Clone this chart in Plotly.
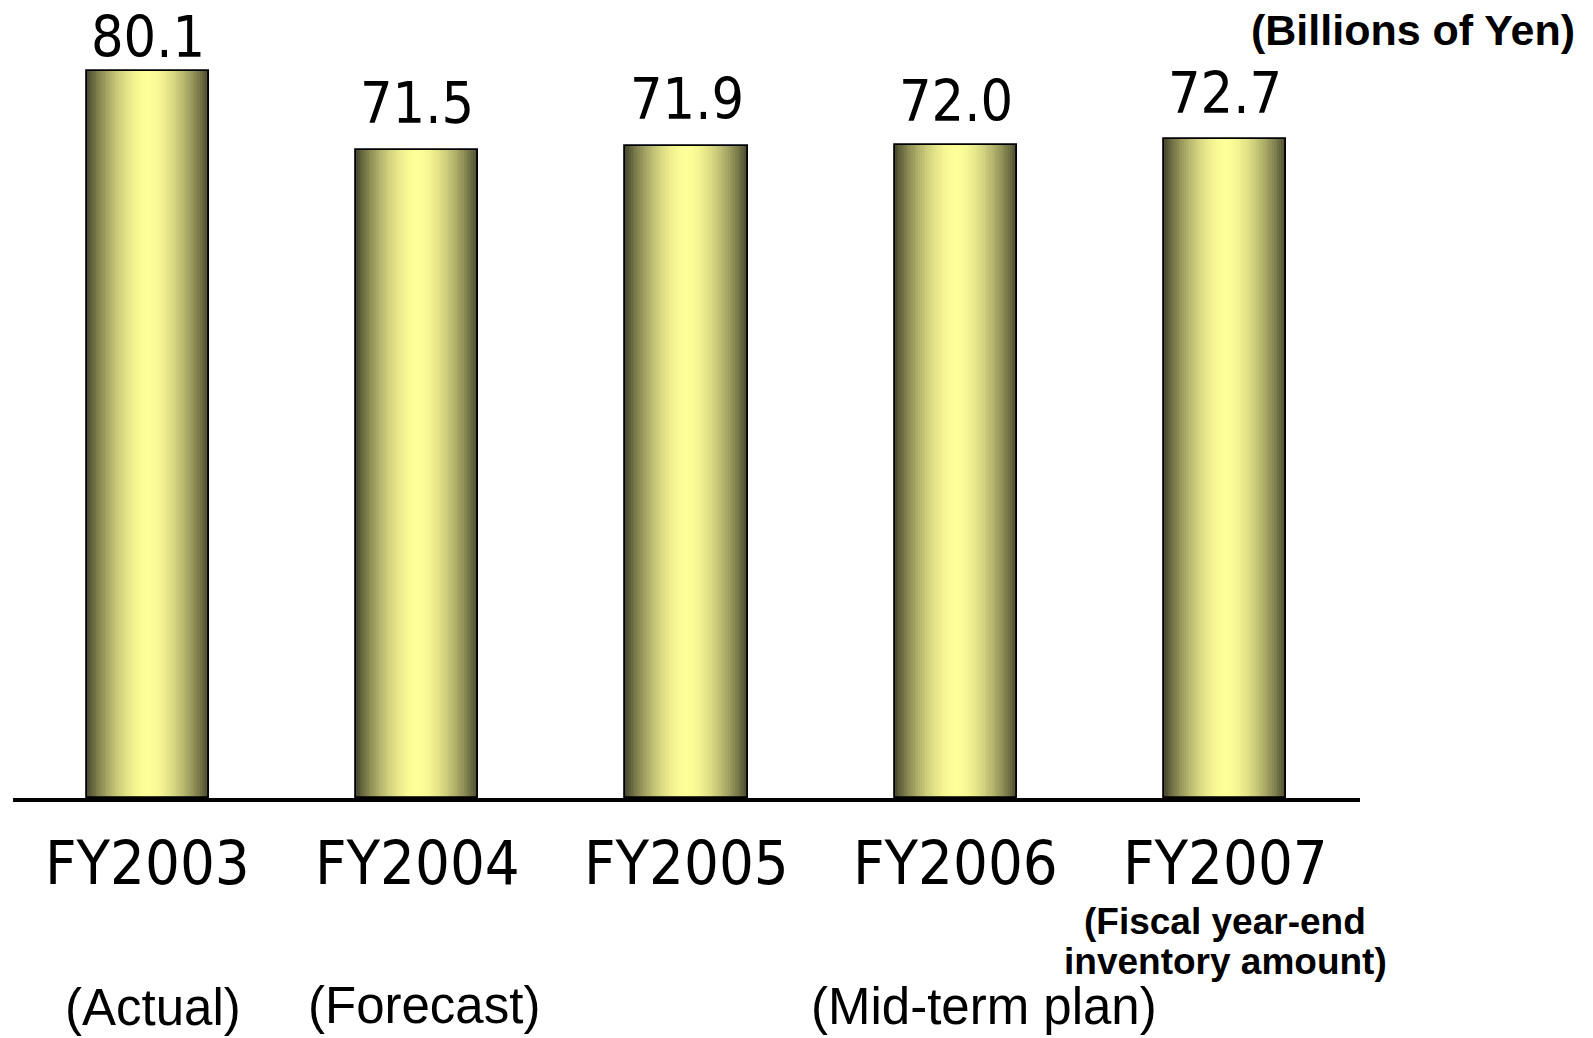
import plotly.graph_objects as go

# Fiscal year-end inventory amount (billions of yen)
years = ["FY2003", "FY2004", "FY2005", "FY2006", "FY2007"]
inventory = [80.1, 71.5, 71.9, 72.0, 72.7]
phase_labels = ["(Actual)", "(Forecast)", "(Mid-term plan)"]
unit_label = "(Billions of Yen)"
note_lines = ["(Fiscal year-end", "inventory amount)"]

# ---- layout geometry (pixels) ----
W, H = 1593, 1038
L, R, T, B = 13, 233, 18, 240
PW, PH = W - L - R, H - T - B
PX_PER_UNIT = 9.07
Y_MAX = PH / PX_PER_UNIT
BAR_W = 0.454


def px_x(px):
    return (px - L) / PW


def px_y(py):
    return (T + PH - py) / PH


NARROW = "DejaVu Sans Condensed, Liberation Sans, sans-serif"
SANS = "Liberation Sans, Arial, sans-serif"

# cylinder shading: stacked overlay bars, dark olive at edges -> pale yellow centre
dark = (76, 76, 48)
light = (255, 255, 153)
N_LAYERS = 34

fig = go.Figure()
for i in range(N_LAYERS):
    t = 1 - i / N_LAYERS  # 1 at edge, ->0 at centre
    f = t ** 1.8
    c = tuple(round(light[k] * (1 - f) + dark[k] * f) for k in range(3))
    fig.add_trace(go.Bar(
        x=years, y=inventory, width=BAR_W * t,
        marker=dict(color=f"rgb{c}", line=dict(width=0)),
        hoverinfo="skip", showlegend=False,
    ))

# outline
fig.add_trace(go.Bar(
    x=years, y=inventory, width=BAR_W,
    marker=dict(color="rgba(0,0,0,0)", line=dict(color="black", width=1.8)),
    hoverinfo="skip", showlegend=False,
))

annotations = []
# value labels above bars
label_gap = [34, 47, 47, 44, 46]
for yr, v, g in zip(years, inventory, label_gap):
    annotations.append(dict(
        x=yr, y=v, xref="x", yref="y", text=f"{v:.1f}", showarrow=False,
        yanchor="middle", yshift=g, font=dict(family=NARROW, size=57, color="black"),
    ))

# category labels
for yr in years:
    annotations.append(dict(
        x=yr, y=0, xref="x", yref="paper", text=yr, showarrow=False,
        yanchor="middle", yshift=-(862 - (T + PH)),
        font=dict(family=NARROW, size=61, color="black"),
    ))

# unit label
annotations.append(dict(
    x=px_x(1577), y=px_y(30), xref="paper", yref="paper", text=f"<b>{unit_label}</b>",
    showarrow=False, xanchor="right", yanchor="middle",
    font=dict(family=SANS, size=43, color="black"),
))

# FY2007 note
for line, cy in zip(note_lines, [922, 962]):
    annotations.append(dict(
        x=years[-1], y=px_y(cy), xref="x", yref="paper", text=f"<b>{line}</b>",
        showarrow=False, xanchor="center", yanchor="middle",
        font=dict(family=SANS, size=37, color="black"),
    ))

# phase labels
for txt, cx, cy in zip(phase_labels, [153, 424, 984], [1007, 1005, 1006]):
    annotations.append(dict(
        x=px_x(cx), y=px_y(cy), xref="paper", yref="paper", text=txt,
        showarrow=False, xanchor="center", yanchor="middle",
        font=dict(family=SANS, size=51, color="black"),
    ))

fig.update_layout(
    width=W, height=H,
    margin=dict(l=L, r=R, t=T, b=B, pad=0),
    barmode="overlay", bargap=0,
    plot_bgcolor="white", paper_bgcolor="white",
    annotations=annotations,
    xaxis=dict(
        range=[-0.5, 4.5], showticklabels=False, ticks="", showgrid=False,
        zeroline=False, showline=True, linecolor="black", linewidth=4,
    ),
    yaxis=dict(range=[0, Y_MAX], visible=False, showgrid=False, zeroline=False),
)

fig.write_html("out.html")
